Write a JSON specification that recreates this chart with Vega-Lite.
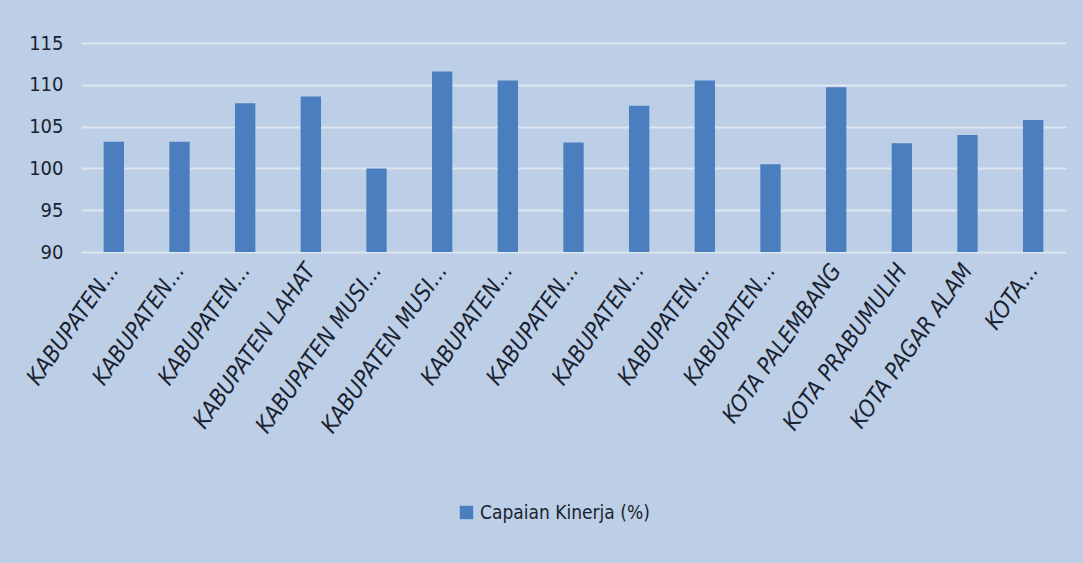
{
  "$schema": "https://vega.github.io/schema/vega-lite/v6.json",
  "autosize": {"type": "none"},
  "width": 985,
  "height": 209,
  "padding": {"left": 81, "top": 43, "right": 17, "bottom": 311},
  "background": "#bdcfe7",
  "data": {
    "values": [
      {"no": 1, "wilayah": "KABUPATEN...", "capaian": 103.2},
      {"no": 2, "wilayah": "KABUPATEN...", "capaian": 103.2},
      {"no": 3, "wilayah": "KABUPATEN...", "capaian": 107.8},
      {"no": 4, "wilayah": "KABUPATEN LAHAT", "capaian": 108.6},
      {"no": 5, "wilayah": "KABUPATEN MUSI...", "capaian": 100.0},
      {"no": 6, "wilayah": "KABUPATEN MUSI...", "capaian": 111.6},
      {"no": 7, "wilayah": "KABUPATEN...", "capaian": 110.5},
      {"no": 8, "wilayah": "KABUPATEN...", "capaian": 103.1},
      {"no": 9, "wilayah": "KABUPATEN...", "capaian": 107.5},
      {"no": 10, "wilayah": "KABUPATEN...", "capaian": 110.5},
      {"no": 11, "wilayah": "KABUPATEN...", "capaian": 100.5},
      {"no": 12, "wilayah": "KOTA PALEMBANG", "capaian": 109.7},
      {"no": 13, "wilayah": "KOTA PRABUMULIH", "capaian": 103.0},
      {"no": 14, "wilayah": "KOTA PAGAR ALAM", "capaian": 104.0},
      {"no": 15, "wilayah": "KOTA...", "capaian": 105.8}
    ]
  },
  "mark": {"type": "bar", "color": "#4a7ebf"},
  "encoding": {
    "x": {
      "field": "no",
      "type": "ordinal",
      "scale": {"paddingInner": 0.69, "paddingOuter": 0.345},
      "axis": {
        "title": null,
        "domain": false,
        "ticks": false,
        "labelAngle": -55,
        "labelPadding": 14,
        "labelFontSize": 23,
        "labelFontStyle": "italic",
        "labelColor": "#1a2230",
        "labelLimit": 400,
        "labelExpr": "['KABUPATEN...','KABUPATEN...','KABUPATEN...','KABUPATEN LAHAT','KABUPATEN MUSI...','KABUPATEN MUSI...','KABUPATEN...','KABUPATEN...','KABUPATEN...','KABUPATEN...','KABUPATEN...','KOTA PALEMBANG','KOTA PRABUMULIH','KOTA PAGAR ALAM','KOTA...'][datum.value - 1]"
      }
    },
    "y": {
      "field": "capaian",
      "type": "quantitative",
      "scale": {"domain": [90, 115], "zero": false, "nice": false},
      "axis": {
        "title": null,
        "domain": false,
        "ticks": false,
        "values": [90, 95, 100, 105, 110, 115],
        "labelPadding": 18,
        "labelFontSize": 20,
        "labelColor": "#1a2230",
        "gridColor": "#dde6f1",
        "gridWidth": 2,
        "gridOpacity": 1
      }
    },
    "y2": {"datum": 90},
    "color": {
      "datum": "Capaian Kinerja (%)",
      "scale": {"range": ["#4a7ebf"]},
      "legend": {
        "title": null,
        "orient": "none",
        "legendX": 376,
        "legendY": 460,
        "symbolType": "square",
        "symbolSize": 180,
        "symbolStrokeWidth": 0,
        "labelFontSize": 19,
        "labelColor": "#1a2230",
        "labelLimit": 400,
        "labelOffset": 4
      }
    }
  },
  "config": {
    "font": "Liberation Sans Narrow, DejaVu Sans Condensed, Open Sans",
    "view": {"stroke": null}
  }
}
